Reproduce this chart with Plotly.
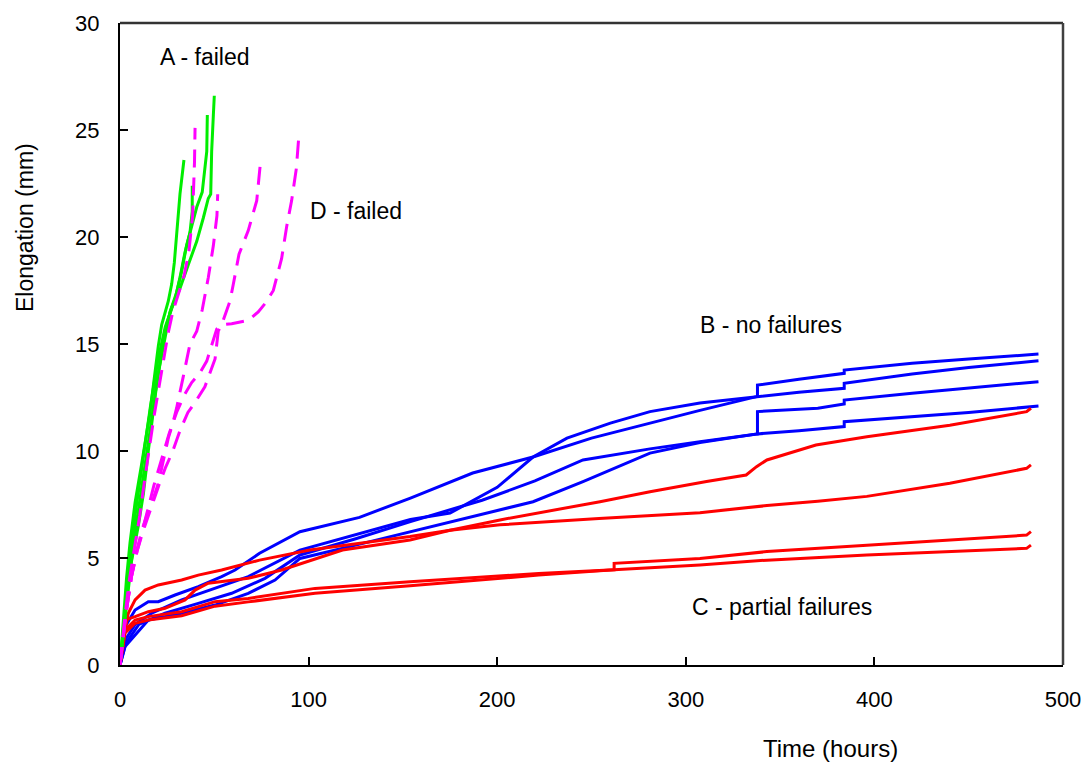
import plotly.graph_objects as go

# ---------------- data (hours, mm) ----------------
# Series A - failed (green)
a1_t = [0, 3.5, 5.3, 8, 11.5, 15.9, 20.3, 22.1, 25.6, 27.4, 28.8, 30, 31.8, 33.9]
a1_e = [0, 4.1, 5.7, 7.6, 9.4, 11.8, 14.9, 15.9, 17.0, 17.8, 18.8, 20.1, 22.0, 23.6]
a2_t = [0, 4, 8, 12, 16, 20, 23.9, 26.5, 30, 32.7, 35.3, 38.3, 40.7, 43.6, 46, 46.3]
a2_e = [0, 3.5, 6.2, 8.5, 11.0, 13.5, 15.4, 16.5, 17.4, 18.4, 19.6, 20.6, 21.4, 22.1, 24.0, 25.7]
a3_t = [0, 3, 6, 9.7, 12.4, 15, 19, 22, 25, 27.4, 31.8, 36.2, 40.7, 44.2, 46.8, 48.1, 48.6, 49.5, 50]
a3_e = [0, 2.5, 4.8, 6.5, 8.0, 10.0, 12.8, 14.6, 16.0, 16.7, 17.6, 18.7, 19.8, 20.9, 21.8, 22.0, 24.0, 25.7, 26.6]
a4_t = [0, 4, 8, 12, 16, 20, 24, 29.2, 31.8, 34.5, 37.1, 38.3, 38.3]
a4_e = [0, 3.8, 7.0, 9.5, 12.0, 14.2, 15.8, 17.1, 18.1, 19.3, 20.2, 21.2, 22.4]

# Series D - failed (magenta, dashed)
d1_t = [0, 2.5, 5, 8, 10.5, 13, 15.5, 18, 20.5, 23, 25.5, 28, 31, 34, 36.5, 38.5, 39.5, 39.8]
d1_e = [0, 2.2, 4.0, 5.6, 7.0, 8.6, 10.2, 11.6, 12.9, 14.3, 15.5, 16.5, 17.4, 18.2, 19.3, 21.0, 23.5, 25.1]
d2_t = [0, 3, 6, 9, 12, 15, 17.7, 20, 22.1, 25.6, 28, 30, 33.6, 37.1, 40.7, 43.6, 46.8, 49.5, 51.4, 51.8]
d2_e = [0, 2.3, 4.1, 5.4, 6.4, 7.2, 7.8, 8.4, 9.2, 10.6, 11.3, 12.0, 13.5, 15.0, 15.6, 16.6, 18.1, 19.6, 21.0, 22.0]
d3_t = [0, 3, 6, 9, 12, 15, 18, 21, 24, 28, 32, 36, 40, 45, 50.4, 52.1, 53.9, 58.3, 60.1, 63.1, 68, 72.5, 74.6]
d3_e = [0, 2.3, 4.1, 5.3, 6.2, 7.0, 7.7, 8.5, 9.2, 10.0, 11.0, 11.8, 12.3, 13.0, 14.3, 15.6, 15.9, 17.0, 17.8, 19.2, 20.3, 21.7, 23.6]
d4_t = [0, 3, 6, 9, 12, 15, 18, 22, 26, 30, 34, 38, 42, 46, 49, 51.3, 53.9, 59.2, 68, 73.3, 77, 81.3, 85.7, 88.4, 91, 93.5, 94.9]
d4_e = [0, 2.3, 4.1, 5.3, 6.3, 7.4, 8.4, 9.6, 10.8, 11.8, 12.6, 13.2, 13.6, 14.2, 15.0, 15.7, 15.9, 15.95, 16.1, 16.5, 16.9, 17.5, 19.0, 20.5, 21.7, 23.2, 24.8]

# Series B - no failures (blue)
b1_t = [0, 1, 2.7, 8, 15, 20.3, 29.2, 41.5, 53.9, 61, 74, 95.4, 127, 154, 187, 219, 250, 281, 307.5, 338, 338, 360, 384, 384, 420, 450, 487]
b1_e = [0, 0.8, 1.79, 2.57, 2.96, 2.96, 3.27, 3.66, 4.13, 4.44, 5.22, 6.23, 6.9, 7.8, 8.97, 9.72, 10.6, 11.3, 11.9, 12.55, 13.08, 13.35, 13.63, 13.78, 14.1, 14.3, 14.53]
b2_t = [0, 3, 8, 16.8, 32.7, 50.4, 68, 95.4, 125, 154, 175, 200, 219, 237, 260, 281, 307.5, 338, 360, 384, 384, 420, 450, 487]
b2_e = [0, 1.2, 1.9, 2.42, 3.04, 3.58, 4.13, 5.37, 6.1, 6.8, 7.1, 8.3, 9.72, 10.6, 11.3, 11.84, 12.24, 12.55, 12.75, 12.93, 13.16, 13.6, 13.9, 14.22]
b3_t = [0, 3, 10, 23.9, 41.5, 59.2, 76.9, 95.4, 125, 154, 192, 220, 245.5, 281, 307.5, 338, 338, 370, 384, 384, 420, 450, 487]
b3_e = [0, 1.0, 1.9, 2.42, 2.88, 3.35, 4.05, 5.14, 5.9, 6.7, 7.7, 8.6, 9.58, 10.1, 10.43, 10.8, 11.84, 12.0, 12.2, 12.38, 12.7, 12.95, 13.24]
b4_t = [0, 2.7, 15, 32.7, 50.4, 68, 82.2, 95.4, 125, 154, 190, 219, 245.5, 272, 281, 307.5, 338, 360, 384, 384, 420, 450, 487]
b4_e = [0, 0.86, 2.1, 2.42, 2.8, 3.35, 3.97, 4.98, 5.6, 6.23, 7.0, 7.63, 8.57, 9.58, 9.9, 10.4, 10.8, 10.95, 11.14, 11.37, 11.6, 11.8, 12.1]

# Series C - partial failures (red)
c1_t = [0, 2.7, 8, 15, 23.9, 34.5, 39.8, 46.8, 68, 85.7, 118, 153.8, 175, 201.5, 254.5, 281, 311, 332, 337.5, 343, 369, 396, 440, 480.7, 483]
c1_e = [0, 2.1, 2.26, 2.49, 2.65, 3.04, 3.5, 3.82, 4.05, 4.44, 5.37, 5.84, 6.3, 6.78, 7.63, 8.1, 8.57, 8.88, 9.27, 9.58, 10.28, 10.67, 11.2, 11.84, 12.0]
c2_t = [0, 1, 4.4, 8, 13.3, 20.3, 32.7, 41.5, 53.9, 74, 100.7, 153.8, 175, 201.5, 254, 281, 307.5, 343, 370, 396, 440, 480.7, 483]
c2_e = [0, 0.86, 2.42, 3.04, 3.5, 3.74, 3.97, 4.2, 4.44, 4.9, 5.37, 6.0, 6.3, 6.55, 6.85, 7.0, 7.12, 7.45, 7.65, 7.88, 8.49, 9.19, 9.35]
c3_t = [0, 2.7, 8, 15, 32.7, 50.4, 68, 85.7, 103.4, 153.8, 222, 262, 262, 307.5, 343, 396, 480.7, 483]
c3_e = [0, 1.64, 2.1, 2.26, 2.49, 2.96, 3.11, 3.35, 3.58, 3.89, 4.28, 4.45, 4.75, 4.98, 5.3, 5.6, 6.07, 6.23]
c4_t = [0, 2.7, 8, 15, 32.7, 50.4, 68, 85.7, 103.4, 153.8, 222, 262, 307.5, 343, 396, 480.7, 483]
c4_e = [0, 1.5, 1.95, 2.1, 2.3, 2.75, 2.95, 3.15, 3.35, 3.7, 4.2, 4.45, 4.67, 4.9, 5.14, 5.45, 5.6]

x_ticks = [0, 100, 200, 300, 400, 500]
y_ticks = [0, 5, 10, 15, 20, 25, 30]

labels = ["A - failed", "D - failed", "B - no failures", "C - partial failures"]
label_x = [45, 125, 345, 351]
label_y = [28.4, 21.2, 15.9, 2.7]

# ---------------- figure ----------------
FONT = "Liberation Sans, Arial, sans-serif"
fig = go.Figure()

def add(t, e, color, dash=None):
    fig.add_trace(go.Scatter(
        x=t, y=e, mode="lines",
        line=dict(color=color, width=3, dash=dash),
        showlegend=False, hoverinfo="skip"))

for t, e in [(b1_t, b1_e), (b2_t, b2_e), (b3_t, b3_e), (b4_t, b4_e)]:
    add(t, e, "#0000FF")
for t, e in [(c1_t, c1_e), (c2_t, c2_e), (c3_t, c3_e), (c4_t, c4_e)]:
    add(t, e, "#FF0000")
for t, e in [(a1_t, a1_e), (a2_t, a2_e), (a3_t, a3_e), (a4_t, a4_e)]:
    add(t, e, "#00EE00")
for t, e in [(d1_t, d1_e), (d2_t, d2_e), (d3_t, d3_e), (d4_t, d4_e)]:
    add(t, e, "#FF00FF", dash="18px,10px")

for txt, x, y in zip(labels, label_x, label_y):
    fig.add_annotation(x=x, y=y, xref="x", yref="y", text=txt, showarrow=False,
                       xanchor="center", yanchor="middle",
                       font=dict(family=FONT, size=23, color="black"))

fig.add_annotation(x=(830 - 120) / 943, y=-(748 - 665) / 642, xref="paper", yref="paper",
                   text="Time (hours)", showarrow=False, xanchor="center", yanchor="middle",
                   font=dict(family=FONT, size=24, color="black"))
fig.add_annotation(x=-(120 - 25) / 943, y=(665 - 228) / 642, xref="paper", yref="paper",
                   text="Elongation (mm)", showarrow=False, textangle=-90,
                   xanchor="center", yanchor="middle",
                   font=dict(family=FONT, size=23, color="black"))

# top and right frame
fig.add_shape(type="line", xref="paper", yref="paper", x0=0, x1=1, y0=1, y1=1,
              line=dict(color="#333333", width=2.5))
fig.add_shape(type="line", xref="paper", yref="paper", x0=1, x1=1, y0=0, y1=1,
              line=dict(color="#404040", width=2.5))

fig.update_layout(
    width=1086, height=764,
    margin=dict(l=120, r=23, t=23, b=99, autoexpand=False),
    paper_bgcolor="white", plot_bgcolor="white",
    font=dict(family=FONT, size=22, color="black"),
    showlegend=False,
)
fig.update_xaxes(range=[0, 500], tickvals=x_ticks, ticks="inside", ticklen=8, tickwidth=2,
                 tickcolor="black", showline=True, linecolor="black", linewidth=2,
                 showgrid=False, zeroline=False, ticklabelstandoff=14, automargin=False,
                 tickfont=dict(family=FONT, size=22))
fig.update_yaxes(range=[0, 30], tickvals=y_ticks, ticks="inside", ticklen=8, tickwidth=2,
                 tickcolor="black", showline=True, linecolor="black", linewidth=2,
                 showgrid=False, zeroline=False, ticklabelstandoff=14, automargin=False,
                 tickfont=dict(family=FONT, size=22))

fig.write_html("out.html", config={"displayModeBar": False},
               post_script="document.body.style.margin='0px';document.body.style.overflow='hidden';")
